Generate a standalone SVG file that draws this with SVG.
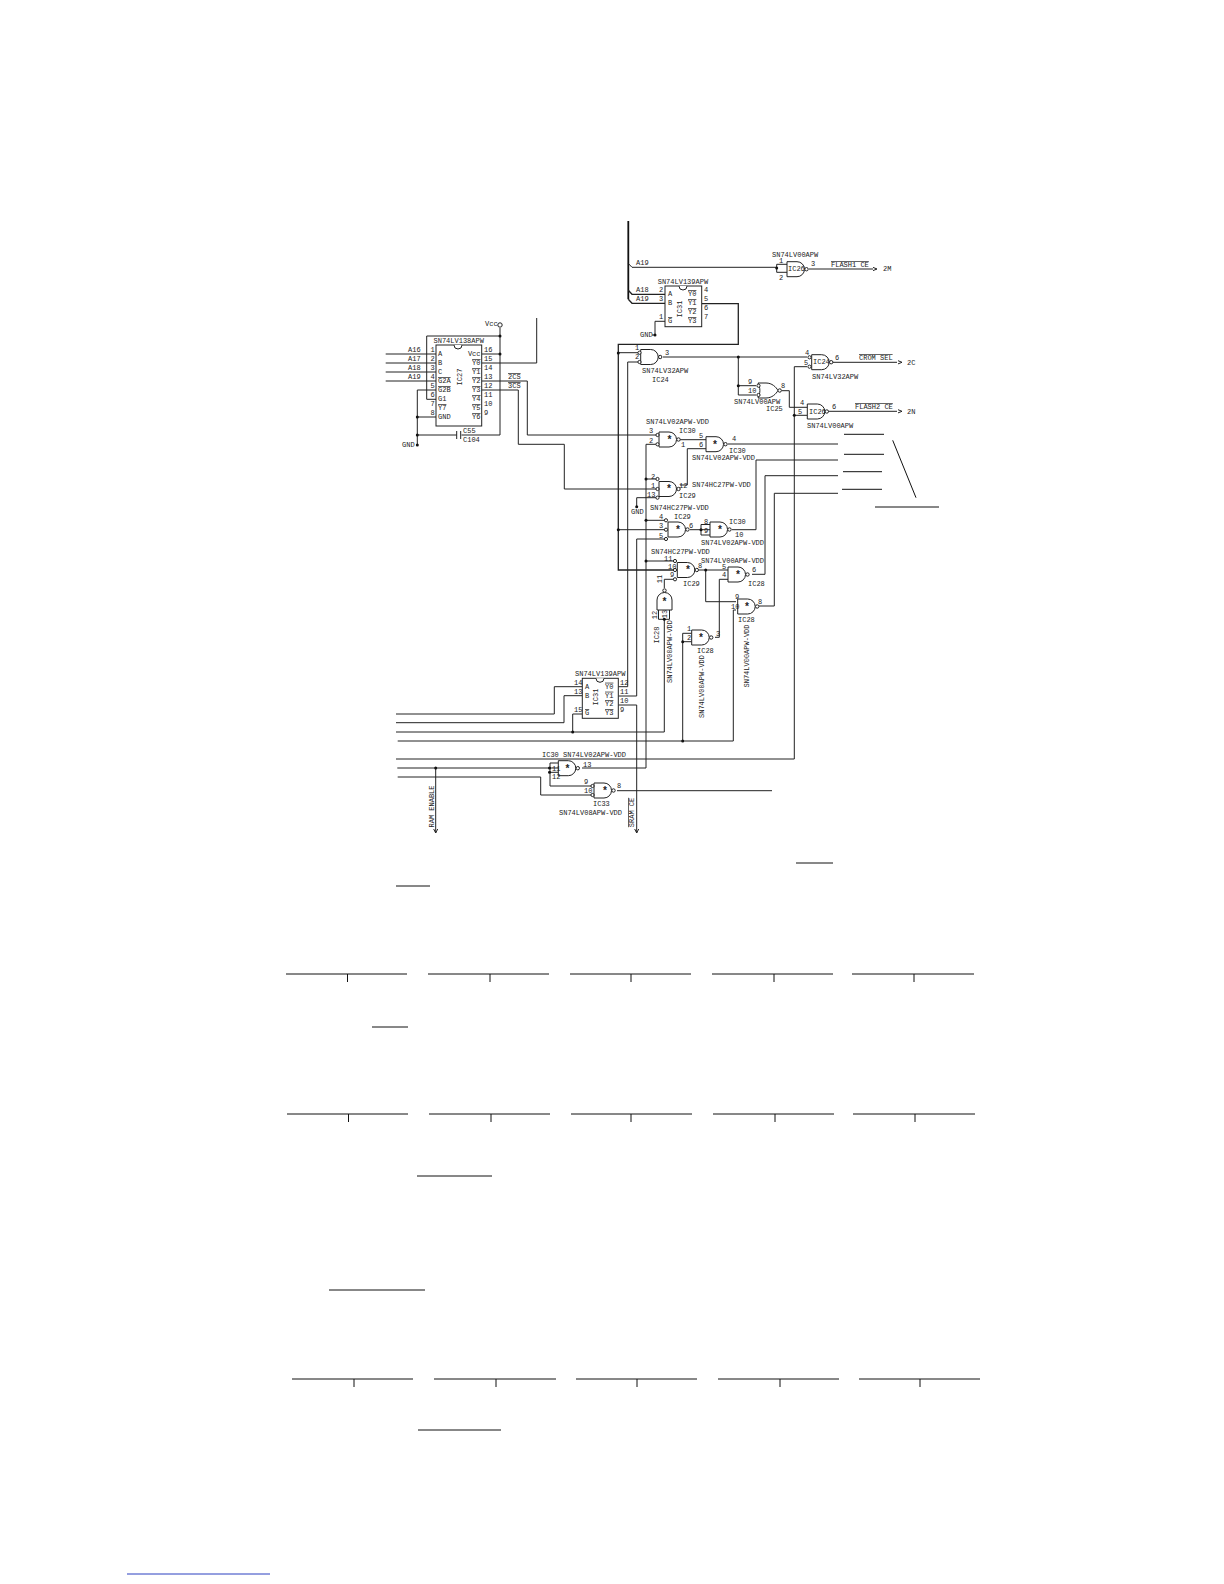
<svg xmlns="http://www.w3.org/2000/svg" width="1224" height="1584" viewBox="0 0 1224 1584">
<style>
text{font-family:"Liberation Mono","DejaVu Sans Mono",monospace;font-size:7px;fill:#222;dominant-baseline:central}
.m{text-anchor:middle}.e{text-anchor:end}.ov{text-decoration:overline}
.w{fill:none;stroke:#222;stroke-width:1}
.h{fill:none;stroke:#222;stroke-width:1.3}
.b{fill:none;stroke:#111;stroke-width:1.8}
.t{fill:none;stroke:#111;stroke-width:1}
.s{fill:#fff;stroke:#222;stroke-width:1}
.d{fill:#111;stroke:none}
.st{font-size:10px;font-weight:bold}
</style>
<defs>
<g id="nand"><path class="s" d="M0 0H10A7.5 7.5 0 0 1 10 15H0Z"/><circle class="s" cx="19.5" cy="7.5" r="1.7"/></g>
<g id="or"><path class="s" d="M0 0H8C14 0 18 4 20 7.500C18 11 14 15 8 15H0C2.500 10 2.500 5 0 0Z"/><circle class="s" cx="21.700" cy="7.500" r="1.700"/></g>
<g id="chev"><path class="w" d="M0 -1.600L4 0L0 1.600"/></g>
<g id="dn"><path class="w" d="M-2 -4L0 0L2 -4"/></g>
</defs>

<g id="connectors">
<path class="b" d="M628.3 221V299.3"/>
<path class="h" d="M628.3 299.3L632 303.3H665M628.3 290.3L632 294.3H665"/>
<path class="w" d="M628.3 263.5L632 267.3H776.7"/>
<path class="w" d="M776.7 264.3V272.3M776.7 264.3H787M776.7 272.3H787"/>
<path class="w" d="M809 269H873"/>
<path class="w" d="M665 321.3H655V335H652"/>
<path class="h" d="M701.7 303.7H738.3V344.3H618.3V570H675"/>
<path class="w" d="M618.3 352.7H638"/>
<path class="w" d="M638 362H627.7V686.7H618.3"/>
<path class="w" d="M663 357H807M738.3 357V395H756M738.3 385.7H756"/>
<path class="w" d="M781.7 390.7H789.3V407.3H807.3"/>
<path class="w" d="M807 366.7H794.3V759H396M794.3 415.3H807.3"/>
<path class="w" d="M832 362.3H897M827 411.3H897"/>
<path class="w" d="M426.7 399.3V336H500M426.7 399.3H436"/>
<path class="w" d="M500 328V435H461.5M456.7 435H417.3M481.7 354H500"/>
<path class="w" d="M436 390H417.3V445M417.3 417H436"/>
<path class="w" d="M385.7 354H436M385.7 363H436M385.7 372H436M385.7 381H436"/>
<path class="w" d="M481.7 363H536.7V318"/>
<path class="w" d="M481.7 381H527.3V435H657"/>
<path class="w" d="M481.7 390H518.3V444.3H564.3V489H657"/>
<path class="w" d="M657 444.3H646V768H582"/>
<path class="w" d="M680 439.7H706M706 448.7H687.3V485H680"/>
<path class="w" d="M728 444H838"/>
<path class="w" d="M646 479H657M657 497.7H636.7V506.7"/>
<path class="w" d="M646 520.3H666M618.3 529.7H666M636.7 696H618.3M636.7 696V539H666"/>
<path class="w" d="M690 529.7H710M701 524.5H710M701 535H710M701 524.5V535"/>
<path class="w" d="M732 529.7H756V460H838"/>
<path class="w" d="M752 574.3H765V475.7H838"/>
<path class="w" d="M759 606H774.3V493.3H838"/>
<path class="w" d="M646 561H675M664.3 579.3H675M664.3 579.3V588"/>
<path class="w" d="M699 570H728M705.7 570V601.7H736"/>
<path class="w" d="M715 637.3H719.3V579.3H728"/>
<path class="w" d="M736 610H733.3V741H397.7M682.7 741V633.3H691.7M682.7 641.7H691.7"/>
<path class="w" d="M658.5 610V619.3H669.5V610M664.3 619.3V732H396"/>
<path class="w" d="M582.3 686.7H554.3V714H396M582.3 695.7H564V722.7H396M582.3 714H572.7V732"/>
<path class="w" d="M618.3 705H636.7V833"/>
<path class="w" d="M397.3 768H558.3M435.7 768V833"/>
<path class="w" d="M397.7 777H540.7V795H592M558.3 763H550V786H592M550 772.3H558.3"/>
<path class="w" d="M617 790.7H772"/>
<g class="d"><circle cx="776.7" cy="268" r="1.5"/><circle cx="618.3" cy="353" r="1.5"/><circle cx="738.3" cy="357" r="1.5"/><circle cx="738.3" cy="385.7" r="1.5"/><circle cx="794.3" cy="415.3" r="1.5"/><circle cx="500" cy="336" r="1.5"/><circle cx="500" cy="354" r="1.5"/><circle cx="417.3" cy="417" r="1.5"/><circle cx="417.3" cy="435" r="1.5"/><circle cx="417.3" cy="445" r="1.5"/><circle cx="655" cy="335" r="1.5"/><circle cx="646" cy="479" r="1.5"/><circle cx="646" cy="520.3" r="1.5"/><circle cx="618.3" cy="529.7" r="1.5"/><circle cx="701" cy="529.7" r="1.5"/><circle cx="646" cy="561" r="1.5"/><circle cx="705.7" cy="570" r="1.5"/><circle cx="664.3" cy="619.3" r="1.5"/><circle cx="682.7" cy="641.7" r="1.5"/><circle cx="682.7" cy="741" r="1.5"/><circle cx="572.7" cy="732" r="1.5"/><circle cx="435.7" cy="768" r="1.5"/><circle cx="549.5" cy="768" r="1.5"/><circle cx="549.5" cy="772.3" r="1.5"/><circle cx="636.7" cy="506.7" r="1.5"/></g>
<use href="#chev" x="873" y="269"/><use href="#chev" x="898" y="362.3"/><use href="#chev" x="898" y="411.3"/>
<use href="#dn" x="435.7" y="833"/><use href="#dn" x="636.7" y="833"/>
</g>

<g id="IC27">
<rect class="s" x="436" y="345" width="45.7" height="81"/>
<path class="s" d="M454 345A4 4 0 0 0 462 345"/>
<text x="433.500" y="341">SN74LV138APW</text>
<circle class="s" cx="500" cy="325" r="2.2"/>
<text x="485" y="323.5">Vcc</text>
<text x="438" y="354">A</text><text x="438" y="363">B</text><text x="438" y="372">C</text><text class="ov" x="438" y="381">G2A</text><text class="ov" x="438" y="390">G2B</text><text x="438" y="399">G1</text><text class="ov" x="438" y="408">Y7</text><text x="438" y="417">GND</text>
<text class="e" x="480.5" y="354">Vcc</text><text class="e ov" x="480.5" y="363">Y0</text><text class="e ov" x="480.5" y="372">Y1</text><text class="e ov" x="480.5" y="381">Y2</text><text class="e ov" x="480.5" y="390">Y3</text><text class="e ov" x="480.5" y="399">Y4</text><text class="e ov" x="480.5" y="408">Y5</text><text class="e ov" x="480.5" y="417">Y6</text>
<text class="m" x="432.5" y="350">1</text><text class="m" x="432.5" y="359">2</text><text class="m" x="432.5" y="368">3</text><text class="m" x="432.5" y="377">4</text><text class="m" x="432.5" y="386">5</text><text class="m" x="432.5" y="395">6</text><text class="m" x="432.5" y="404">7</text><text class="m" x="432.5" y="413">8</text>
<text x="484" y="350">16</text><text x="484" y="359">15</text><text x="484" y="368">14</text><text x="484" y="377">13</text><text x="484" y="386">12</text><text x="484" y="395">11</text><text x="484" y="404">10</text><text x="484" y="413">9</text>
<text class="m" transform="translate(459.5 377) rotate(-90)">IC27</text>
<text x="408" y="350">A16</text><text x="408" y="359">A17</text><text x="408" y="368">A18</text><text x="408" y="377">A19</text>
<text class="ov" x="508" y="377">2CS</text><text class="ov" x="508" y="386">3CS</text>
<path class="w" d="M456.7 431V439M460.7 431V439"/>
<text x="463" y="431">C55</text><text x="463" y="440">C104</text>
<text x="402" y="445">GND</text>
</g>

<g id="IC31a">
<rect class="s" x="665" y="286" width="36.7" height="40.7"/>
<path class="s" d="M679 286A4 4 0 0 0 687 286"/>
<text x="657.7" y="281.7">SN74LV139APW</text>
<text x="668" y="294.3">A</text><text x="668" y="303.3">B</text><text class="ov" x="668" y="321.3">G</text>
<text class="ov" x="688" y="294.3">Y0</text><text class="ov" x="688" y="303.3">Y1</text><text class="ov" x="688" y="312.3">Y2</text><text class="ov" x="688" y="321.3">Y3</text>
<text class="m" x="661" y="290">2</text><text class="m" x="661" y="299">3</text><text class="m" x="661" y="317">1</text>
<text x="704" y="290">4</text><text x="704" y="299">5</text><text x="704" y="308">6</text><text x="704" y="317">7</text>
<text class="m" transform="translate(679.5 309) rotate(-90)">IC31</text>
<text x="636" y="263">A19</text><text x="636" y="290">A18</text><text x="636" y="299">A19</text>
<text x="640" y="335">GND</text>
</g>

<g id="IC26a">
<use href="#nand" x="787" y="261.7"/>
<text x="788" y="269">IC26</text>
<text x="772" y="254.500">SN74LV00APW</text>
<text x="779" y="261">1</text><text x="779" y="278">2</text><text x="811" y="264">3</text>
<text class="ov" x="831" y="265">FLASH1 CE</text><text x="883" y="269">2M</text>
</g>

<g id="IC24a">
<use href="#nand" x="640.7" y="349.5"/>
<circle class="s" cx="639.5" cy="352.7" r="1.6"/><circle class="s" cx="639.5" cy="362" r="1.6"/>
<text x="635" y="348">1</text><text x="635" y="357">2</text><text x="665" y="353">3</text>
<text x="642" y="371">SN74LV32APW</text><text x="652" y="380">IC24</text>
</g>

<g id="IC24b">
<use href="#nand" x="811.7" y="354.7"/>
<circle class="s" cx="809.5" cy="357.3" r="1.6"/><circle class="s" cx="809.5" cy="366.7" r="1.6"/>
<text x="813" y="362.3">IC24</text>
<text x="805" y="353">4</text><text x="804" y="362.5">5</text><text x="835" y="358">6</text>
<text x="812" y="376.7">SN74LV32APW</text>
<text class="ov" x="859" y="358">CROM SEL</text><text x="907" y="362.7">2C</text>
</g>

<g id="IC25">
<use href="#or" x="758" y="383"/>
<circle class="s" cx="758.5" cy="385.7" r="1.6"/><circle class="s" cx="758.5" cy="395" r="1.6"/>
<text x="748" y="381.5">9</text><text x="748" y="391">10</text><text x="781" y="386">8</text>
<text x="734" y="402">SN74LV00APW</text><text x="766" y="409">IC25</text>
</g>

<g id="IC26b">
<use href="#nand" x="807.3" y="404"/>
<text x="809" y="411.5">IC26</text>
<text x="800" y="403">4</text><text x="798" y="412">5</text><text x="832" y="407">6</text>
<text x="807" y="426">SN74LV00APW</text>
<text class="ov" x="855" y="407">FLASH2 CE</text><text x="907" y="412">2N</text>
</g>

<g id="IC30a">
<use href="#nand" x="659" y="432"/>
<circle class="s" cx="657.5" cy="435" r="1.6"/><circle class="s" cx="657.5" cy="444.3" r="1.6"/>
<text class="m st" x="669.5" y="440">*</text>
<text x="646" y="422">SN74LV02APW-VDD</text>
<text x="679" y="431">IC30</text>
<text x="649" y="431">3</text><text x="649" y="440.5">2</text><text x="681" y="445">1</text>
</g>

<g id="IC30b">
<use href="#nand" x="706" y="436.7"/>
<text class="m st" x="715" y="445">*</text>
<text x="699" y="436">5</text><text x="699" y="445">6</text><text x="732" y="439">4</text>
<text x="729" y="451">IC30</text>
<text x="692" y="458">SN74LV02APW-VDD</text>
</g>

<g id="IC29a">
<use href="#nand" x="659" y="481.5"/>
<circle class="s" cx="657.5" cy="479" r="1.6"/><circle class="s" cx="657.5" cy="489" r="1.6"/><circle class="s" cx="657.5" cy="497.7" r="1.6"/>
<text class="m st" x="669" y="489.5">*</text>
<text x="651" y="476.5">2</text><text x="651" y="485.5">1</text><text x="647" y="494.5">13</text><text x="679" y="485.5">12</text>
<text x="692" y="485">SN74HC27PW-VDD</text><text x="679" y="496">IC29</text>
<text x="650" y="508">SN74HC27PW-VDD</text>
<text x="631" y="512">GND</text>
</g>

<g id="IC29b">
<use href="#nand" x="668" y="522"/>
<circle class="s" cx="666" cy="520.3" r="1.6"/><circle class="s" cx="666" cy="529.7" r="1.6"/><circle class="s" cx="666" cy="539" r="1.6"/>
<text class="m st" x="678" y="530">*</text>
<text x="659" y="517">4</text><text x="659" y="526">3</text><text x="659" y="536">5</text><text x="689" y="526">6</text>
<text x="674" y="517">IC29</text>
</g>

<g id="IC30c">
<use href="#nand" x="710" y="522"/>
<text class="m st" x="720" y="530">*</text>
<text x="704" y="521.5">8</text><text x="704" y="530.5">9</text>
<text x="729" y="521.5">IC30</text><text x="735" y="535">10</text>
<text x="701" y="543">SN74LV02APW-VDD</text>
</g>

<g id="IC29c">
<use href="#nand" x="677.3" y="562.5"/>
<circle class="s" cx="675" cy="561" r="1.6"/><circle class="s" cx="675" cy="570" r="1.6"/><circle class="s" cx="675" cy="579.3" r="1.6"/>
<text class="m st" x="688" y="570.5">*</text>
<text x="664" y="558.500">11</text><text x="668" y="566.500">10</text><text x="670" y="575">9</text><text x="698" y="566">8</text>
<text x="651" y="552">SN74HC27PW-VDD</text><text x="683" y="584">IC29</text>
</g>

<g id="IC28a">
<use href="#nand" x="728" y="567"/>
<text class="m st" x="738" y="575">*</text>
<text x="722" y="567">5</text><text x="722" y="575">4</text><text x="752" y="570">6</text>
<text x="701" y="561">SN74LV00APW-VDD</text><text x="748" y="584">IC28</text>
</g>

<g id="IC28b">
<use href="#nand" x="737.7" y="599"/>
<text class="m st" x="747" y="607">*</text>
<text x="735" y="597">9</text><text x="731" y="606.5">10</text><text x="758" y="602">8</text>
<text x="738" y="620">IC28</text>
<text class="m" transform="translate(747 656) rotate(-90)">SN74LV00APW-VDD</text>
</g>

<g id="IC28c">
<use href="#nand" x="691.7" y="630"/>
<text class="m st" x="701" y="638">*</text>
<text x="687" y="629">1</text><text x="687" y="638">2</text><text x="716" y="634">3</text>
<text x="697" y="651">IC28</text>
<text class="m" transform="translate(702 686.5) rotate(-90)">SN74LV00APW-VDD</text>
</g>

<g id="IC28d">
<use href="#nand" transform="translate(657 610) rotate(-90)"/>
<text class="m st" x="664.5" y="602">*</text>
<text class="m" transform="translate(660 579) rotate(-90)">11</text>
<text class="m" transform="translate(655 615) rotate(-90)">12</text>
<text class="m" transform="translate(665 614) rotate(-90)">13</text>
<text class="m" transform="translate(657 635) rotate(-90)">IC28</text>
<text class="m" transform="translate(670 651.5) rotate(-90)">SN74LV00APW-VDD</text>
</g>

<g id="IC31b">
<rect class="s" x="582.3" y="678.3" width="36" height="40"/>
<path class="s" d="M596 678.3A4 4 0 0 0 604 678.3"/>
<text x="575" y="674">SN74LV139APW</text>
<text x="585" y="686.7">A</text><text x="585" y="695.7">B</text><text class="ov" x="585" y="713.3">G</text>
<text class="ov" x="605" y="686.7">Y0</text><text class="ov" x="605" y="695.7">Y1</text><text class="ov" x="605" y="704.3">Y2</text><text class="ov" x="605" y="713.3">Y3</text>
<text x="574" y="683">14</text><text x="574" y="692">13</text><text x="574" y="710">15</text>
<text x="620" y="683">12</text><text x="620" y="692">11</text><text x="620" y="701">10</text><text x="620" y="710">9</text>
<text class="m" transform="translate(596 697) rotate(-90)">IC31</text>
</g>

<g id="IC30d">
<use href="#nand" x="558.3" y="760.7"/>
<text class="m st" x="567.5" y="769">*</text>
<text x="542" y="755">IC30</text><text x="563" y="755">SN74LV02APW-VDD</text>
<text x="552" y="768.5">11</text><text x="552" y="777">12</text><text x="583" y="764.5">13</text>
</g>

<g id="IC33">
<use href="#nand" x="594" y="783"/>
<circle class="s" cx="592.5" cy="786" r="1.6"/><circle class="s" cx="592.5" cy="795" r="1.6"/>
<text class="m st" x="605" y="791.5">*</text>
<text x="584" y="782">9</text><text x="584" y="791">10</text><text x="617" y="786">8</text>
<text x="593" y="804">IC33</text><text x="559" y="813">SN74LV08APW-VDD</text>
</g>

<text class="m" transform="translate(431.7 806.5) rotate(-90)">RAM ENABLE</text>
<text class="m ov" transform="translate(632 812.5) rotate(-90)">SRAM CE</text>

<g id="lines">
<path class="t" d="M844 434.3H884M844 454.3H884M843 471.7H882M842 489.3H882M892.7 440.3L916 497.7M875 507H939"/>
<path class="t" d="M796 863H833M396 886H430M372 1027H408M417 1176H492M329 1290H425M418 1430H501"/>
<path class="t" d="M286 974H407M347.500 974V982M428 974H549M490 974V982M570 974H691M631 974V982M712 974H833M774 974V982M852 974H974M914 974V982"/>
<path class="t" d="M287 1114H408M348.500 1114V1122M429 1114H550M491 1114V1122M571 1114H692M631 1114V1122M713 1114H834M775 1114V1122M853 1114H975M915 1114V1122"/>
<path class="t" d="M292 1379H413M354 1379V1387M434 1379H556M496 1379V1387M576 1379H697M637 1379V1387M718 1379H839M780 1379V1387M859 1379H980M920 1379V1387"/>
<path fill="none" stroke="#2a3fc0" stroke-width="1" d="M127 1574H270"/>
</g>
</svg>
